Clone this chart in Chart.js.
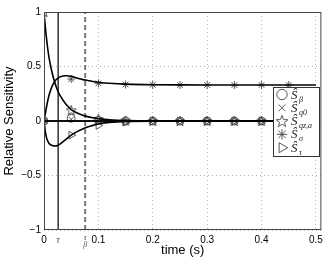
<!DOCTYPE html>
<html>
<head>
<meta charset="utf-8">
<script src="https://cdn.jsdelivr.net/npm/chart.js@4"></script>
<style>
  html, body { margin: 0; padding: 0; background: #fff; }
</style>
</head>
<body>
<canvas id="chart" width="327" height="261"></canvas>
<script>
// time constants shown as special x ticks
const tau = 0.026;
const tauBeta = 0.0757;

// smooth curves
const lineTime = [0, 0.0025, 0.005, 0.0075, 0.01, 0.015, 0.02, 0.025, 0.03, 0.04, 0.05, 0.06, 0.07, 0.08, 0.09, 0.1, 0.12, 0.15, 0.2, 0.3, 0.4, 0.5];
const sBeta = [0, 0, 0, 0, 0, 0, 0, 0, 0, 0, 0, 0, 0, 0, 0, 0, 0, 0, 0, 0, 0, 0];
const sQ0 = [0, 0, 0, 0, 0, 0, 0, 0, 0, 0, 0, 0, 0, 0, 0, 0, 0, 0, 0, 0, 0, 0];
const sQza = [1, 0.86, 0.74, 0.64, 0.56, 0.44, 0.35, 0.28, 0.23, 0.155, 0.105, 0.075, 0.055, 0.04, 0.03, 0.022, 0.012, 0.005, 0.001, 0, 0, 0];
const sSigma = [0, 0.07, 0.14, 0.2, 0.25, 0.32, 0.365, 0.39, 0.405, 0.415, 0.41, 0.395, 0.382, 0.372, 0.363, 0.356, 0.346, 0.338, 0.333, 0.33, 0.33, 0.33];
const sTau = [0, -0.1, -0.16, -0.19, -0.21, -0.225, -0.23, -0.225, -0.21, -0.17, -0.13, -0.1, -0.075, -0.055, -0.04, -0.028, -0.013, -0.004, -0.001, 0, 0, 0];

// markers
const markTime = [0, 0.05, 0.1, 0.15, 0.2, 0.25, 0.3, 0.35, 0.4, 0.45];
const mBeta = [0, 0.025, 0.005, 0, 0, 0, 0, 0, 0, 0];
const mQ0 = [0, 0.015, 0.003, 0, 0, 0, 0, 0, 0, 0];
const mQza = [1, 0.1, 0.02, 0.003, 0, 0, 0, 0, 0, 0];
const mSigma = [0, 0.385, 0.346, 0.335, 0.332, 0.33, 0.33, 0.33, 0.33, 0.33];
const mTau = [0, -0.13, -0.04, -0.01, 0, 0, 0, 0, 0, 0];

const xTicks = [0, tau, tauBeta, 0.1, 0.2, 0.3, 0.4, 0.5];
const yRange = [-1, 1];

const legendNames = ["β", "q0", "qz,a", "σ", "τ"];

const pts = (xs, ys) => xs.map((x, i) => ({ x: x, y: ys[i] }));

// five point star marker
const makeStar = (size) => {
  const c = document.createElement("canvas");
  c.width = size;
  c.height = size;
  const g = c.getContext("2d");
  const h = size / 2;
  g.strokeStyle = "#444";
  g.lineWidth = 0.9;
  g.beginPath();
  for (let i = 0; i < 10; i++) {
    const r = i % 2 === 0 ? h - 0.8 : (h - 0.8) * 0.42;
    const a = -Math.PI / 2 + (i * Math.PI) / 5;
    const px = h + r * Math.cos(a);
    const py = h + 0.5 + r * Math.sin(a);
    if (i === 0) g.moveTo(px, py);
    else g.lineTo(px, py);
  }
  g.closePath();
  g.stroke();
  return c;
};
const starImg = makeStar(12);
const starLegend = makeStar(14);

const curve = (data) => ({
  data: data,
  showLine: true,
  borderColor: "#000",
  borderWidth: 1.6,
  pointRadius: 0,
  tension: 0.3,
  fill: false,
});

const marker = (data, style, extra) =>
  Object.assign(
    {
      data: data,
      showLine: false,
      pointStyle: style,
      pointRadius: 4,
      pointBorderColor: "#444",
      pointBackgroundColor: "rgba(0,0,0,0)",
      pointBorderWidth: 0.9,
    },
    extra || {}
  );

const markerSets = [
  marker(pts(markTime, mBeta), "circle"),
  marker(pts(markTime, mQ0), "crossRot", { pointRadius: 3.5 }),
  marker(pts(markTime, mQza), starImg),
  marker(pts(markTime, mSigma), "star", { pointRadius: 4 }),
  marker(pts(markTime, mTau), "triangle", { pointRadius: 4.5, pointRotation: 90 }),
];

const datasets = [
  curve(pts(lineTime, sBeta)),
  curve(pts(lineTime, sQ0)),
  curve(pts(lineTime, sQza)),
  curve(pts(lineTime, sSigma)),
  curve(pts(lineTime, sTau)),
  ...markerSets,
  {
    data: pts([tau, tau], yRange),
    showLine: true,
    borderColor: "#111",
    borderWidth: 1.3,
    pointRadius: 0,
  },
  {
    data: pts([tauBeta, tauBeta], yRange),
    showLine: true,
    borderColor: "#777",
    borderWidth: 2,
    borderDash: [5, 3],
    pointRadius: 0,
  },
];

const frame = {
  id: "frame",
  afterDatasetsDraw(chart) {
    const { ctx, chartArea: a } = chart;
    ctx.save();
    ctx.strokeStyle = "#444";
    ctx.lineWidth = 1;
    ctx.strokeRect(a.left + 0.5, a.top + 0.5, a.right - a.left - 1, a.bottom - a.top - 1);
    ctx.restore();
  },
};

const boxLegend = {
  id: "boxLegend",
  afterDraw(chart) {
    const ctx = chart.ctx;
    const left = 273, top = 87, w = 46, h = 69;
    ctx.save();
    ctx.fillStyle = "#fff";
    ctx.fillRect(left, top, w, h);
    ctx.strokeStyle = "#333";
    ctx.lineWidth = 1;
    ctx.strokeRect(left + 0.5, top + 0.5, w, h);
    markerSets.forEach((m, i) => {
      const y = top + 7.5 + i * 13.3;
      ctx.strokeStyle = "#444";
      ctx.fillStyle = "rgba(0,0,0,0)";
      ctx.lineWidth = 0.9;
      Chart.helpers.drawPoint(ctx, {
        pointStyle: m.pointStyle === starImg ? starLegend : m.pointStyle,
        radius: m.pointRadius + 1.2,
        rotation: m.pointRotation || 0,
        borderWidth: 0.9,
      }, left + 9, y);
      ctx.fillStyle = "#222";
      ctx.textBaseline = "alphabetic";
      ctx.font = "italic 13px 'Liberation Serif'";
      ctx.fillText("Ŝ", left + 18, y + 4);
      ctx.font = "italic 8px 'Liberation Serif'";
      ctx.fillText(legendNames[i], left + 26, y + 7);
    });
    ctx.restore();
  },
};

const isSpecial = (v) => Math.abs(v - tau) < 1e-6 || Math.abs(v - tauBeta) < 1e-6;

const tickLabel = (v) => {
  if (v === 0) return "0";
  if (Math.abs(v - tau) < 1e-6) return "τ";
  if (Math.abs(v - tauBeta) < 1e-6) return ["τ", "β"];
  return String(Math.round(v * 10) / 10);
};

new Chart(document.getElementById("chart"), {
  type: "scatter",
  data: { datasets: datasets },
  plugins: [frame, boxLegend],
  options: {
    responsive: false,
    animation: false,
    layout: { padding: { top: 12, right: 5, left: 0, bottom: 0 } },
    plugins: { legend: { display: false }, tooltip: { enabled: false } },
    scales: {
      x: {
        type: "linear",
        min: 0,
        max: 0.51,
        afterBuildTicks: (s) => {
          s.ticks = xTicks.map((v) => ({ value: v }));
        },
        afterFit: (s) => {
          s.height = 31;
        },
        ticks: {
          autoSkip: false,
          maxRotation: 0,
          padding: 4,
          callback: (v) => tickLabel(v),
          color: (c) => (c.tick && isSpecial(c.tick.value) ? "#555" : "#000"),
          font: (c) =>
            c.tick && Math.abs(c.tick.value - tauBeta) < 1e-6
              ? { family: "Liberation Serif", size: 8, style: "italic", lineHeight: 0.9 }
              : c.tick && isSpecial(c.tick.value)
              ? { family: "Liberation Serif", size: 10, style: "italic" }
              : { family: "Liberation Sans", size: 10 },
        },
        grid: {
          drawTicks: false,
          color: (c) =>
            c.tick && (c.tick.value === 0 || isSpecial(c.tick.value)) ? "rgba(0,0,0,0)" : "#b4b4b4",
          lineWidth: 1,
        },
        border: { display: false, dash: [1, 3] },
        title: {
          display: true,
          text: "time (s)",
          color: "#000",
          font: { family: "Liberation Sans", size: 13 },
          padding: { top: 0, bottom: 3 },
        },
      },
      y: {
        min: -1,
        max: 1,
        afterFit: (s) => {
          s.width = 44;
        },
        ticks: {
          stepSize: 0.5,
          padding: 3,
          color: "#000",
          font: { family: "Liberation Sans", size: 10 },
          callback: (v) => (v < 0 ? "−" + Math.abs(v) : String(v)),
        },
        grid: {
          drawTicks: false,
          color: "#b4b4b4",
          lineWidth: 1,
        },
        border: { display: false, dash: [1, 3] },
        title: {
          display: true,
          text: "Relative Sensitivity",
          color: "#000",
          font: { family: "Liberation Sans", size: 13 },
          padding: { top: 2, bottom: 0 },
        },
      },
    },
  },
});
</script>
</body>
</html>
